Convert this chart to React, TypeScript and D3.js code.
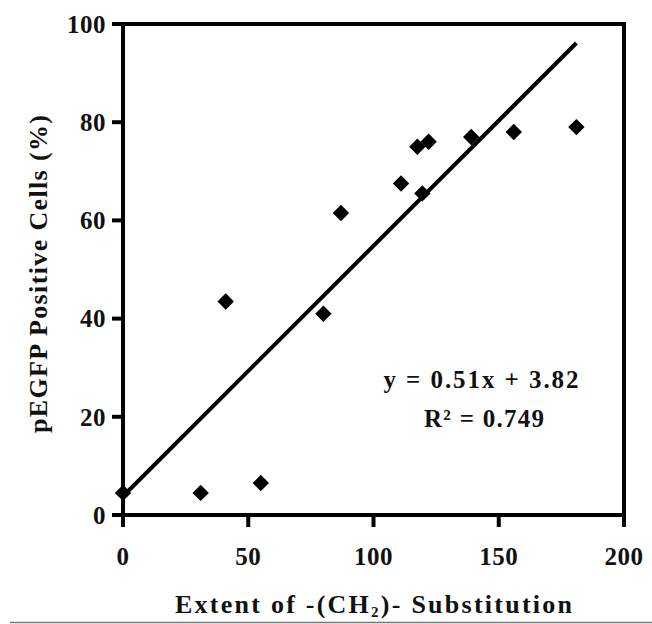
import React from "react";
import * as d3 from "d3";

const xValues = [0, 31, 55, 41, 80, 87, 111, 119.5, 117.5, 122, 139, 156, 181];
const yValues = [4.5, 4.5, 6.5, 43.5, 41, 61.5, 67.5, 65.5, 75, 76, 77, 78, 79];
const xTicks = [0, 50, 100, 150, 200];
const yTicks = [0, 20, 40, 60, 80, 100];
const slope = 0.51;
const intercept = 3.82;
const fitRange = [0, 181];

const W = 652;
const H = 624;
const left = 123;
const right = 624;
const top = 24;
const bottom = 515;
const font = "Liberation Serif, Times New Roman, DejaVu Serif, serif";

export default function App() {
  const x = d3.scaleLinear().domain([0, 200]).range([left, right]);
  const y = d3.scaleLinear().domain([0, 100]).range([bottom, top]);
  const diamond = d3.symbol().type(d3.symbolSquare).size(135)();
  const fitLine = d3
    .line<number>()
    .x((d) => x(d))
    .y((d) => y(slope * d + intercept))(fitRange);

  return (
    <svg
      width={W}
      height={H}
      style={{ position: "absolute", left: 0, top: 0, background: "#fff" }}
    >
      <rect x={0} y={0} width={W} height={H} fill="#fff" />
      {/* frame */}
      <rect
        x={left}
        y={top}
        width={right - left}
        height={bottom - top}
        fill="none"
        stroke="#000"
        strokeWidth={4}
      />
      {/* y ticks */}
      {yTicks.map((t) => (
        <g key={"y" + t}>
          <line x1={left - 11} x2={left} y1={y(t)} y2={y(t)} stroke="#000" strokeWidth={4} />
          <text
            x={106}
            y={y(t)}
            dy="0.35em"
            textAnchor="end"
            fontFamily={font}
            fontWeight="bold"
            fontSize={25}
            letterSpacing={0.5}
            fill="#111"
          >
            {t}
          </text>
        </g>
      ))}
      {/* x ticks */}
      {xTicks.map((t) => (
        <g key={"x" + t}>
          <line x1={x(t)} x2={x(t)} y1={bottom} y2={bottom + 12} stroke="#000" strokeWidth={4} />
          <text
            x={x(t)}
            y={565}
            textAnchor="middle"
            fontFamily={font}
            fontWeight="bold"
            fontSize={25}
            letterSpacing={0.5}
            fill="#111"
          >
            {t}
          </text>
        </g>
      ))}
      {/* regression line */}
      <path d={fitLine || ""} fill="none" stroke="#000" strokeWidth={4} />
      {/* points */}
      {xValues.map((v, i) => (
        <path
          key={"p" + i}
          d={diamond || ""}
          transform={`translate(${x(v)},${y(yValues[i])}) rotate(45)`}
          fill="#000"
        />
      ))}
      {/* equation */}
      <text
        x={481}
        y={388}
        textAnchor="middle"
        fontFamily={font}
        fontWeight="bold"
        fontSize={25}
        fill="#111"
        textLength={195}
        lengthAdjust="spacing"
      >
        y = 0.51x + 3.82
      </text>
      <text
        x={484}
        y={427}
        textAnchor="middle"
        fontFamily={font}
        fontWeight="bold"
        fontSize={25}
        fill="#111"
        textLength={120}
        lengthAdjust="spacing"
      >
        R² = 0.749
      </text>
      {/* axis titles */}
      <text
        x={(left + right) / 2}
        y={613}
        textAnchor="middle"
        fontFamily={font}
        fontWeight="bold"
        fontSize={26}
        fill="#111"
        textLength={397}
        lengthAdjust="spacing"
      >
        Extent of -(CH
        <tspan fontSize={15} dy={4}>2</tspan>
        <tspan dy={-4}>)- Substitution</tspan>
      </text>
      <text
        transform={`translate(47,274) rotate(-90)`}
        textAnchor="middle"
        fontFamily={font}
        fontWeight="bold"
        fontSize={26}
        fill="#111"
        textLength={318}
        lengthAdjust="spacing"
      >
        pEGFP Positive Cells (%)
      </text>
      {/* bottom border line */}
      <line x1={10} x2={W} y1={622.5} y2={622.5} stroke="#777" strokeWidth={1.5} />
    </svg>
  );
}
